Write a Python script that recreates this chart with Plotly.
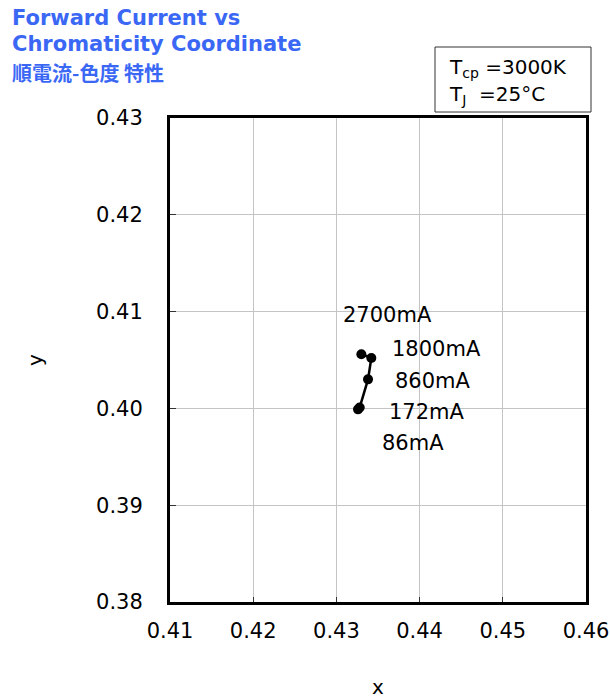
import plotly.graph_objects as go

# data
currents = ["86mA", "172mA", "860mA", "1800mA", "2700mA"]
cx = [0.4326, 0.4328, 0.4338, 0.4342, 0.4330]
cy = [0.3999, 0.4001, 0.4030, 0.4052, 0.4056]
label_x = [0.4392, 0.4409, 0.4416, 0.4420, 0.4362]
label_y = [0.3964, 0.3996, 0.4028, 0.4061, 0.4096]
x_ticks = [0.41, 0.42, 0.43, 0.44, 0.45, 0.46]
y_ticks = [0.38, 0.39, 0.40, 0.41, 0.42, 0.43]
x_labels = ["0.41", "0.42", "0.43", "0.44", "0.45", "0.46"]
y_labels = ["0.38", "0.39", "0.40", "0.41", "0.42", "0.43"]
title_lines = ["Forward Current vs", "Chromaticity Coordinate", "順電流-色度 特性"]

FONT = "DejaVu Sans"
BLUE = "#3a68f5"

fig = go.Figure()
fig.add_trace(go.Scatter(
    x=cx, y=cy, mode="lines+markers",
    line=dict(color="black", width=2.5),
    marker=dict(color="black", size=10),
    showlegend=False, hoverinfo="skip",
))

W, H = 610, 699
L, R, T, B = 170, 24, 118, 97
pw, ph = W - L - R, H - T - B

def px(x):
    return (x - L) / pw

def py(y):
    return (H - B - y) / ph

annotations = []
for t, lx, ly in zip(currents, label_x, label_y):
    annotations.append(dict(x=lx, y=ly, xref="x", yref="y", text=t, showarrow=False,
                            font=dict(family=FONT, size=21, color="black"),
                            xanchor="center", yanchor="middle"))

title_y = [18, 44, 73]
for i, (t, yy) in enumerate(zip(title_lines, title_y)):
    fam = FONT if i < 2 else "Noto Sans CJK JP"
    annotations.append(dict(x=px(10), y=py(yy), xref="paper", yref="paper", text="<b>%s</b>" % t,
                            showarrow=False, xanchor="left", yanchor="middle",
                            font=dict(family=fam, size=21 if i < 2 else 20, color=BLUE)))

annotations.append(dict(x=px(447), y=py(68), xref="paper", yref="paper",
                        text="T<sub>cp</sub> =3000K", showarrow=False, xanchor="left", yanchor="middle",
                        font=dict(family=FONT, size=20, color="black")))
annotations.append(dict(x=px(447), y=py(95), xref="paper", yref="paper",
                        text="T<sub>J</sub>  =25°C", showarrow=False, xanchor="left", yanchor="middle",
                        font=dict(family=FONT, size=20, color="black")))

shapes = [dict(type="rect", xref="paper", yref="paper", x0=px(435), x1=px(591), y0=py(112), y1=py(47),
               line=dict(color="#333333", width=1), fillcolor="white")]

fig.update_layout(
    width=W, height=H, margin=dict(l=L, r=R, t=T, b=B, autoexpand=False),
    paper_bgcolor="white", plot_bgcolor="white",
    font=dict(family=FONT, size=21, color="black"),
    annotations=annotations, shapes=shapes,
    xaxis=dict(range=[0.41, 0.46], tickvals=x_ticks, ticktext=x_labels,
               showgrid=True, gridcolor="#c4c4c4", gridwidth=1,
               showline=True, linecolor="black", linewidth=3, mirror=True,
               ticks="inside", ticklen=5, tickcolor="#333333", tickwidth=1,
               ticklabelstandoff=8, zeroline=False, automargin=False,
               title=dict(text="x", font=dict(size=20), standoff=38)),
    yaxis=dict(range=[0.38, 0.43], tickvals=y_ticks, ticktext=y_labels,
               showgrid=True, gridcolor="#c4c4c4", gridwidth=1,
               showline=True, linecolor="black", linewidth=3, mirror=True,
               ticks="inside", ticklen=6, tickcolor="#333333", tickwidth=1,
               ticklabelstandoff=20, zeroline=False, automargin=False,
               title=dict(text="y", font=dict(size=20), standoff=49)),
)

fig.write_html("out.html", config={"displayModeBar": False},
               post_script="document.body.style.margin='0';document.body.style.overflow='hidden';")
